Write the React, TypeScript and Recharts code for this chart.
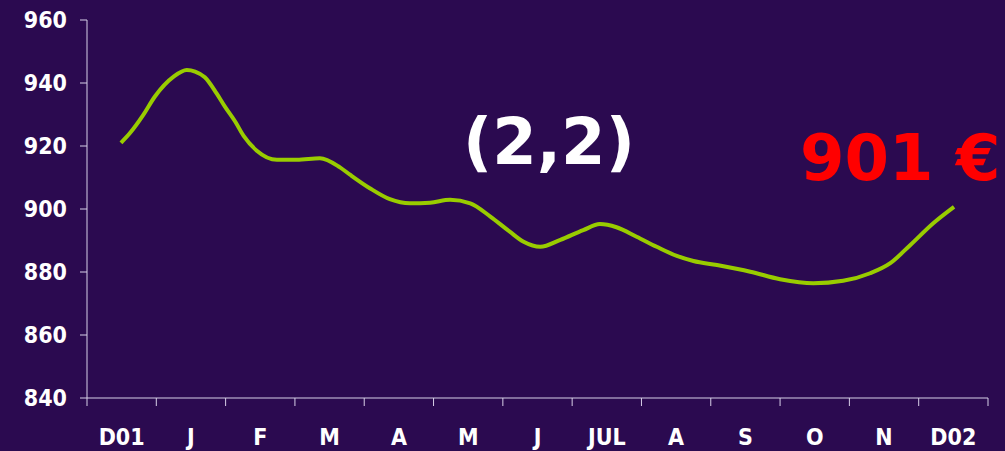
import { LineChart, Line, XAxis, YAxis } from 'recharts';

// position along the year (0 = start of D01 band, 13 = end of D02 band)
const monthPos = [
  0.49, 0.62, 0.81, 0.98, 1.25, 1.44, 1.56, 1.7, 1.87, 1.99, 2.14, 2.26, 2.45, 2.74, 3.03, 3.36,
  3.65, 3.8, 4.08, 4.37, 4.66, 4.95, 5.24, 5.53, 5.82, 6.1, 6.3, 6.54, 6.83, 7.16, 7.4, 7.64,
  7.93, 8.22, 8.51, 8.75, 9.09, 9.57, 10.0, 10.48, 10.91, 11.3, 11.59, 11.88, 12.21, 12.51,
];
const prices = [
  921.0, 924.1, 929.8, 935.7, 942.0, 944.1, 943.6, 941.8, 936.7, 932.5, 927.7, 923.2, 918.5, 915.6, 915.6, 916.1,
  913.2, 910.8, 906.6, 903.1, 901.8, 902.0, 902.9, 901.8, 897.6, 892.8, 889.6, 888.0, 890.2, 893.3, 895.2, 894.2,
  891.2, 888.0, 885.1, 883.5, 882.2, 880.1, 877.7, 876.4, 877.2, 879.6, 882.8, 888.6, 895.5, 900.7,
];
const monthLabels = ['D01', 'J', 'F', 'M', 'A', 'M', 'J', 'JUL', 'A', 'S', 'O', 'N', 'D02'];
const xTicks = [0, 1, 2, 3, 4, 5, 6, 7, 8, 9, 10, 11, 12, 13];
const yTicks = [840, 860, 880, 900, 920, 940, 960];
const changeLabel = '(2,2)';
const lastPriceLabel = '901 €';

const data = monthPos.map((pos, i) => ({ pos, price: prices[i] }));

const W = 1005;
const H = 451;
const BG = '#2b0a50';
const AXIS = '#d8d0e8';
const tickFont = "'DejaVu Sans Condensed', 'DejaVu Sans', sans-serif";
const bandHalf = (W - 87 - 17) / 13 / 2;

export default function App() {
  return (
    <div style={{ position: 'relative', width: W, height: H, background: BG, overflow: 'hidden' }}>
      <style>{'body{margin:0}'}</style>
      <LineChart width={W} height={H} data={data} margin={{ top: 20, right: 17, left: 0, bottom: 0 }}>
        <XAxis
          dataKey="pos"
          type="number"
          domain={[0, 13]}
          ticks={xTicks}
          interval={0}
          height={53}
          stroke={AXIS}
          tickSize={8}
          tickMargin={23}
          tickFormatter={(v: number) => monthLabels[v] ?? ''}
          tick={{ fill: '#ffffff', fontSize: 23, fontWeight: 'bold', fontFamily: tickFont, fontStretch: 'condensed', dx: bandHalf }}
        />
        <YAxis
          domain={[840, 960]}
          ticks={yTicks}
          width={87}
          stroke={AXIS}
          tickSize={7}
          tickMargin={13}
          tick={{ fill: '#ffffff', fontSize: 23, fontWeight: 'bold', fontFamily: tickFont, fontStretch: 'condensed' }}
        />
        <Line
          type="monotone"
          dataKey="price"
          stroke="#99cc00"
          strokeWidth={4}
          dot={false}
          isAnimationActive={false}
        />
      </LineChart>
      <svg width={W} height={H} style={{ position: 'absolute', left: 0, top: 0, pointerEvents: 'none' }}>
        <text x={463} y={164} fill="#ffffff" fontSize={64} fontWeight="bold" fontFamily="'DejaVu Sans', sans-serif">
          {changeLabel}
        </text>
        <text x={800} y={180} fill="#ff0000" fontSize={64} fontWeight="bold" fontFamily="'DejaVu Sans', sans-serif">
          {lastPriceLabel}
        </text>
      </svg>
    </div>
  );
}
